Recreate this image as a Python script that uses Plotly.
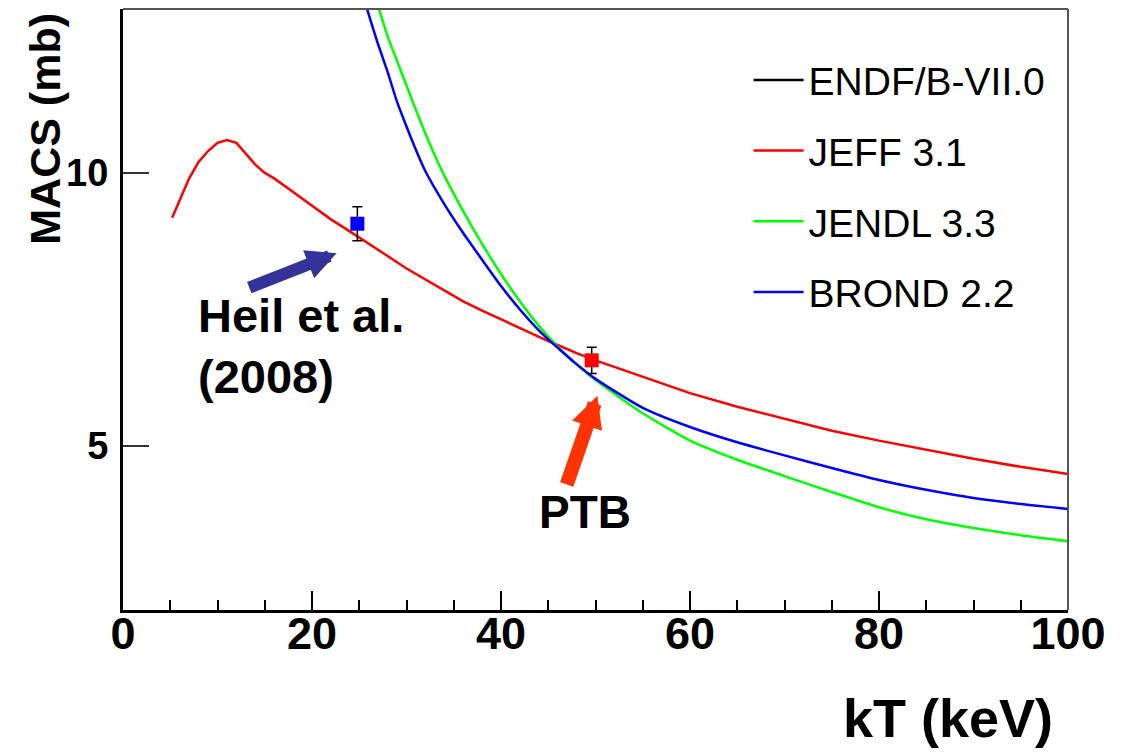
import plotly.graph_objects as go

# ---------------- data ----------------
jeff_x = [5.2, 6, 7, 8, 9, 10, 11, 12, 13, 14, 15, 16, 18, 20, 22, 24, 25, 26, 28, 30, 32, 34, 36, 38,
          40, 42, 44, 45, 46, 48, 50, 55, 60, 65, 70, 75, 80, 85, 90, 95, 100]
jeff_y = [9.18, 9.5, 9.9, 10.2, 10.4, 10.55, 10.6, 10.55, 10.35, 10.15, 10.0, 9.9, 9.65, 9.4, 9.15, 8.93,
          8.82, 8.7, 8.48, 8.25, 8.05, 7.85, 7.65, 7.48, 7.32, 7.15, 7.0, 6.92, 6.85, 6.7, 6.57, 6.27,
          5.97, 5.72, 5.5, 5.28, 5.1, 4.93, 4.77, 4.62, 4.49]

jendl_x = [26, 27, 28, 29, 30, 31, 32, 33, 34, 36, 38, 40, 42, 44, 46, 48, 50, 55, 60, 65, 70, 75, 80,
           85, 90, 95, 100]
jendl_y = [13.6, 13.05, 12.5, 12.05, 11.6, 11.15, 10.72, 10.32, 9.95, 9.3, 8.7, 8.15, 7.65, 7.2, 6.82,
           6.49, 6.21, 5.6, 5.1, 4.75, 4.45, 4.16, 3.88, 3.66, 3.5, 3.37, 3.26]

brond_x = [25, 26, 27, 28, 29, 30, 31, 32, 34, 36, 38, 40, 42, 44, 46, 48, 50, 55, 60, 65, 70, 75, 80,
           85, 90, 95, 100]
brond_y = [13.5, 12.9, 12.35, 11.85, 11.3, 10.85, 10.42, 10.03, 9.43, 8.9, 8.41, 7.93, 7.5, 7.12, 6.8,
           6.5, 6.23, 5.7, 5.35, 5.07, 4.83, 4.6, 4.38, 4.2, 4.05, 3.94, 3.85]

heil_x = [24.8]
heil_y = [9.07]
heil_err = [0.31]

ptb_x = [49.6]
ptb_y = [6.57]
ptb_err = [0.24]

x_ticks = [0, 20, 40, 60, 80, 100]
y_ticks = [5, 10]

FONT = "Liberation Sans, Arial, sans-serif"

fig = go.Figure()

fig.add_trace(go.Scatter(x=[None], y=[None], mode="lines", name="ENDF/B-VII.0",
                         line=dict(color="black", width=2.5), legendgroup="a"))
fig.add_trace(go.Scatter(x=jeff_x, y=jeff_y, mode="lines", name="JEFF 3.1",
                         line=dict(color="#FF0000", width=2.5), legendgroup="b"))
fig.add_trace(go.Scatter(x=jendl_x, y=jendl_y, mode="lines", name="JENDL 3.3",
                         line=dict(color="#00FF00", width=2.5, shape="spline", smoothing=0.6),
                         legendgroup="c"))
fig.add_trace(go.Scatter(x=brond_x, y=brond_y, mode="lines", name="BROND 2.2",
                         line=dict(color="#0000FF", width=2.5, shape="spline", smoothing=0.6),
                         legendgroup="d"))

fig.add_trace(go.Scatter(x=heil_x, y=heil_y, mode="markers", showlegend=False,
                         marker=dict(symbol="square", size=14, color="#0000FF"),
                         error_y=dict(type="data", array=heil_err, color="black", thickness=1.5, width=5)))
fig.add_trace(go.Scatter(x=ptb_x, y=ptb_y, mode="markers", showlegend=False,
                         marker=dict(symbol="square", size=14, color="#FF0000"),
                         error_y=dict(type="data", array=ptb_err, color="black", thickness=1.5, width=5)))

annotations = [
    # arrows
    dict(x=22.6, y=8.53, ax=13.2, ay=7.89, xref="x", yref="y", axref="x", ayref="y", text="",
         showarrow=True, arrowhead=2, arrowwidth=12, arrowsize=0.5, arrowcolor="#333399", standoff=0),
    dict(x=50.2, y=5.92, ax=46.9, ay=4.27, xref="x", yref="y", axref="x", ayref="y", text="",
         showarrow=True, arrowhead=2, arrowwidth=14, arrowsize=0.45, arrowcolor="#FF3300", standoff=0),
    # labels
    dict(x=7.7, y=6.83, xref="x", yref="y", text="Heil et al.<br>(2008)", showarrow=False,
         xanchor="left", yanchor="middle", align="left",
         font=dict(family=FONT, size=47, color="black", weight="bold")),
    dict(x=48.9, y=3.79, xref="x", yref="y", text="PTB", showarrow=False,
         xanchor="center", yanchor="middle",
         font=dict(family=FONT, size=46, color="black", weight="bold")),
    # axis titles
    dict(x=0.986, y=-0.18, xref="paper", yref="paper", text="kT (keV)", showarrow=False,
         xanchor="right", yanchor="middle",
         font=dict(family=FONT, size=54, color="black", weight="bold")),
    dict(x=-0.082, y=0.80, xref="paper", yref="paper", text="MACS (mb)", showarrow=False,
         textangle=-90, xanchor="center", yanchor="middle",
         font=dict(family=FONT, size=43, color="black", weight="bold")),
]

shapes = [
    dict(type="line", xref="paper", yref="paper", x0=0, x1=1, y0=1, y1=1,
         line=dict(color="#555555", width=2)),
    dict(type="line", xref="paper", yref="paper", x0=1, x1=1, y0=0, y1=1,
         line=dict(color="#555555", width=2)),
]

fig.update_layout(
    width=1130, height=753,
    margin=dict(l=123, r=62, t=9, b=143),
    plot_bgcolor="white", paper_bgcolor="white",
    font=dict(family=FONT, color="black"),
    annotations=annotations,
    shapes=shapes,
    legend=dict(x=0.662, y=0.935, xanchor="left", yanchor="top",
                bgcolor="rgba(0,0,0,0)", borderwidth=0,
                font=dict(family=FONT, size=39, color="black"),
                tracegroupgap=17, itemwidth=50),
    xaxis=dict(range=[0, 100], tickvals=x_ticks, ticktext=[str(v) for v in x_ticks],
               showgrid=False, zeroline=False, showline=True, linecolor="black", linewidth=3,
               ticks="inside", ticklen=19, tickwidth=2, tickcolor="black",
               tickfont=dict(family=FONT, size=45, color="black", weight="bold"),
               minor=dict(dtick=5, ticks="inside", ticklen=10, tickwidth=2, tickcolor="black"),
               ticklabelstandoff=-18),
    yaxis=dict(range=[2, 13], tickvals=y_ticks, ticktext=[str(v) for v in y_ticks],
               showgrid=False, zeroline=False, showline=True, linecolor="black", linewidth=3,
               ticks="inside", ticklen=26, tickwidth=1.5, tickcolor="#333333",
               tickfont=dict(family=FONT, size=38, color="black", weight="bold"),
               ticklabelstandoff=4),
)

fig.write_html("out.html")
